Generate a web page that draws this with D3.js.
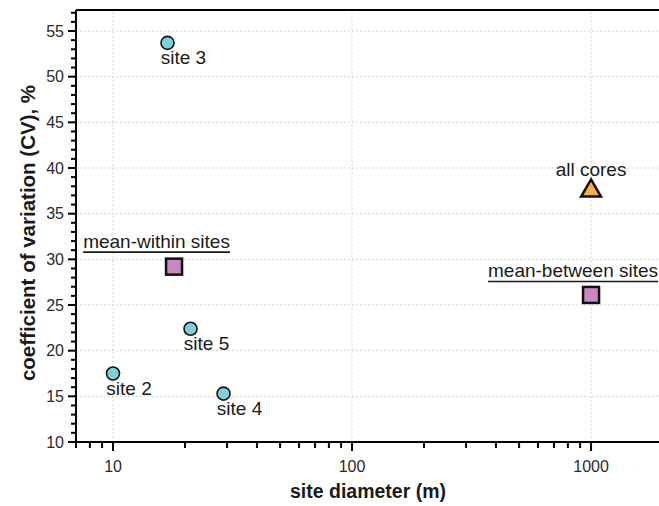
<!DOCTYPE html>
<html>
<head>
<meta charset="utf-8">
<script src="https://cdn.jsdelivr.net/npm/d3@7"></script>
<style>
  html, body { margin: 0; padding: 0; background: #fff; }
  svg { display: block; font-family: "Liberation Sans", Arial, sans-serif; }
</style>
</head>
<body>
<svg id="chart" width="659" height="506"></svg>
<script>
// Individual sites: diameter (m) and CV (%)
const siteNames = ["site 2", "site 3", "site 4", "site 5"];
const siteDiameter = [10, 16.9, 29, 21.1];
const siteCV = [17.5, 53.7, 15.3, 22.4];

// Summary statistics
const meanNames = ["mean-within sites", "mean-between sites"];
const meanDiameter = [18, 1000];
const meanCV = [29.2, 26.1];

const allCoresName = "all cores";
const allCoresDiameter = 1000;
const allCoresCV = 37.5;

const yTicks = [10, 15, 20, 25, 30, 35, 40, 45, 50, 55];
const xTicks = [10, 100, 1000];

const svg = d3.select("#chart");
const margin = { left: 76, top: 10, right: -4, bottom: 64 };
const W = 659, H = 506;

const x = d3.scaleLog().domain([7, 2000]).range([margin.left, W - margin.right]);
const y = d3.scaleLinear().domain([10, 57.3]).range([H - margin.bottom, margin.top]);

const x0 = x.range()[0], x1 = x.range()[1];
const y0 = y.range()[0], y1 = y.range()[1];
const ink = "#1a1a1a";

// dotted grid
const grid = svg.append("g").attr("stroke", "#c8c8c8").attr("stroke-width", 1).attr("stroke-dasharray", "1.5,2.5");
grid.selectAll("line.h").data(yTicks.filter(d => d > 10)).join("line")
  .attr("x1", x0).attr("x2", x1).attr("y1", d => y(d)).attr("y2", d => y(d));
grid.selectAll("line.v").data(xTicks).join("line")
  .attr("y1", y0).attr("y2", y1).attr("x1", d => x(d)).attr("x2", d => x(d));

// top frame line
svg.append("line").attr("x1", x0).attr("x2", x1).attr("y1", y1).attr("y2", y1)
  .attr("stroke", "#000").attr("stroke-width", 2);

// y axis: majors every 5, minors every 1
const yMinor = d3.range(10, 58, 1);
const yAx = svg.append("g").attr("transform", `translate(${x0},0)`);
yAx.append("line").attr("y1", y0).attr("y2", y1).attr("stroke", "#000").attr("stroke-width", 2);
yAx.selectAll("line.t").data(yMinor).join("line")
  .attr("x1", d => d % 5 === 0 ? -8 : -5).attr("x2", 0)
  .attr("y1", d => y(d)).attr("y2", d => y(d))
  .attr("stroke", "#000").attr("stroke-width", 2);
yAx.selectAll("text").data(yTicks).join("text")
  .attr("x", -12).attr("y", d => y(d)).attr("dy", "0.36em")
  .attr("text-anchor", "end").attr("font-size", 16).attr("fill", "#2a2a2a")
  .text(d => d);

// x axis: log ticks
const xMinor = [];
[1, 10, 100, 1000].forEach(dec => { for (let k = 1; k <= 9; k++) { const v = dec * k; if (v >= 7 && v <= 2000) xMinor.push(v); } });
const xAx = svg.append("g").attr("transform", `translate(0,${y0})`);
xAx.append("line").attr("x1", x0).attr("x2", x1).attr("stroke", "#000").attr("stroke-width", 2);
xAx.selectAll("line.t").data(xMinor).join("line")
  .attr("x1", d => x(d)).attr("x2", d => x(d))
  .attr("y1", 0).attr("y2", d => xTicks.includes(d) ? 9 : 6)
  .attr("stroke", "#000").attr("stroke-width", 2);
xAx.selectAll("text").data(xTicks).join("text")
  .attr("x", d => x(d)).attr("y", 30)
  .attr("text-anchor", "middle").attr("font-size", 16).attr("fill", "#2a2a2a")
  .text(d => d);

// axis titles
svg.append("text").attr("x", 368).attr("y", 498)
  .attr("text-anchor", "middle").attr("font-size", 19.5).attr("font-weight", "bold").attr("fill", ink)
  .text("site diameter (m)");
svg.append("text").attr("transform", `translate(35,233) rotate(-90)`)
  .attr("text-anchor", "middle").attr("font-size", 20.5).attr("font-weight", "bold").attr("fill", ink)
  .text("coefficient of variation (CV), %");

// sites
const sites = siteNames.map((n, i) => ({ name: n, d: siteDiameter[i], cv: siteCV[i] }));
svg.selectAll("circle.site").data(sites).join("circle")
  .attr("cx", d => x(d.d)).attr("cy", d => y(d.cv)).attr("r", 6.5)
  .attr("fill", "#7fd0d6").attr("stroke", "#111").attr("stroke-width", 1.6);
svg.selectAll("text.site").data(sites).join("text")
  .attr("x", d => x(d.d) + 16).attr("y", d => y(d.cv) + 21)
  .attr("text-anchor", "middle").attr("font-size", 19).attr("fill", ink)
  .text(d => d.name);

// mean squares
const means = meanNames.map((n, i) => ({ name: n, d: meanDiameter[i], cv: meanCV[i] }));
svg.selectAll("rect.mean").data(means).join("rect")
  .attr("x", d => x(d.d) - 8).attr("y", d => y(d.cv) - 8).attr("width", 16).attr("height", 16)
  .attr("fill", "#c987c2").attr("stroke", "#111").attr("stroke-width", 2.5);
const labelOffsets = [{ dx: -17.5, dy: -19 }, { dx: -18, dy: -18 }];
means.forEach((d, i) => {
  const t = svg.append("text")
    .attr("x", x(d.d) + labelOffsets[i].dx).attr("y", y(d.cv) + labelOffsets[i].dy)
    .attr("text-anchor", "middle").attr("font-size", 19).attr("fill", ink)
    .text(d.name);
  const bb = t.node().getBBox();
  svg.append("line")
    .attr("x1", bb.x).attr("x2", bb.x + bb.width)
    .attr("y1", y(d.cv) + labelOffsets[i].dy + 4.5).attr("y2", y(d.cv) + labelOffsets[i].dy + 4.5)
    .attr("stroke", ink).attr("stroke-width", 1.6);
});

// all cores triangle
const tri = d3.symbol().type(d3.symbolTriangle).size(170);
svg.append("path").attr("d", tri())
  .attr("transform", `translate(${x(allCoresDiameter)},${y(allCoresCV)})`)
  .attr("fill", "#f5ad4f").attr("stroke", "#111").attr("stroke-width", 2.5).attr("stroke-linejoin", "miter");
svg.append("text").attr("x", x(allCoresDiameter)).attr("y", y(allCoresCV) - 15)
  .attr("text-anchor", "middle").attr("font-size", 19).attr("fill", ink)
  .text(allCoresName);
</script>
</body>
</html>
